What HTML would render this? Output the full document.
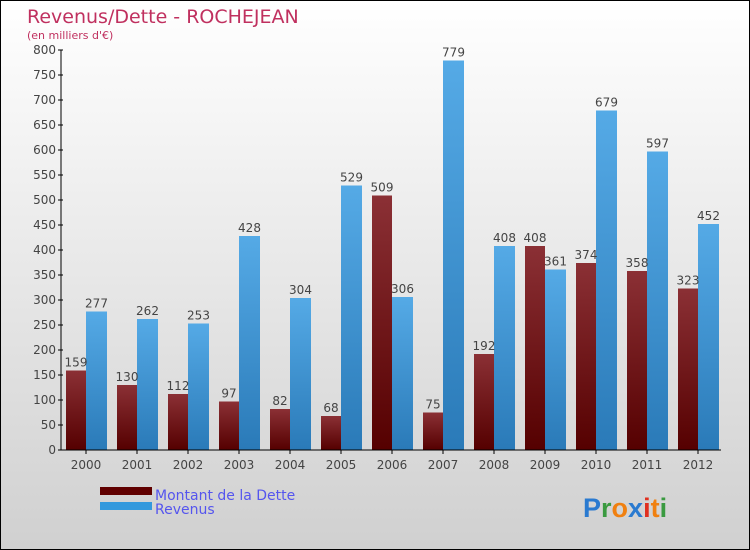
<!DOCTYPE html>
<html><head><meta charset="utf-8"><style>
body{margin:0}
#c{position:relative;width:748px;height:548px;border:1px solid #000;background:linear-gradient(#ffffff,#d0d0d0);font-family:"DejaVu Sans","Liberation Sans",sans-serif;overflow:hidden}
</style></head><body>
<div id="c">
<svg id="s" width="748" height="548">
<defs>
<linearGradient id="gd" x1="0" y1="0" x2="0" y2="1"><stop offset="0" stop-color="#8b3035"/><stop offset="1" stop-color="#550000"/></linearGradient>
<linearGradient id="gr" x1="0" y1="0" x2="0" y2="1"><stop offset="0" stop-color="#55aae6"/><stop offset="1" stop-color="#2a7ab8"/></linearGradient>
</defs>
<text x="26" y="22" font-size="19" fill="#c0305f">Revenus/Dette - ROCHEJEAN</text>
<text x="26" y="38" font-size="11" fill="#c0305f">(en milliers d'€)</text>
<g id="g"></g>
<rect x="99" y="486" width="52" height="8" fill="#600000"/>
<rect x="99" y="501" width="52" height="8" fill="#3399dd"/>
<text x="154" y="499" font-size="14" fill="#5555ee">Montant de la Dette</text>
<text x="154" y="513" font-size="14" fill="#5555ee">Revenus</text>
<text x="582" y="516" font-size="27" font-family="Liberation Sans" font-weight="bold"><tspan fill="#2a7ad0">P</tspan><tspan fill="#3a9a40">r</tspan><tspan fill="#f08010">o</tspan><tspan fill="#2a7ad0">x</tspan><tspan fill="#e03020">i</tspan><tspan fill="#f08010">t</tspan><tspan fill="#3a9a40">i</tspan></text>
</svg>
</div>
<script>
const years=["2000","2001","2002","2003","2004","2005","2006","2007","2008","2009","2010","2011","2012"];
const debt=[159,130,112,97,82,68,509,75,192,408,374,358,323];
const revenue=[277,262,253,428,304,529,306,779,408,361,679,597,452];
const ticks=[0,50,100,150,200,250,300,350,400,450,500,550,600,650,700,750,800];
const g=document.getElementById('g');const NS="http://www.w3.org/2000/svg";
function y(v){return 449-v*0.5;}
function x(i){return 59.5+i*51;}
function mk(t,a){const e=document.createElementNS(NS,t);for(const k in a)e.setAttribute(k,a[k]);g.appendChild(e);return e;}
years.forEach((yr,i)=>{
 let b=mk('rect',{x:x(i)+5.5,y:y(debt[i]),width:20,height:debt[i]*0.5,fill:'url(#gd)'});
 
 
 let r=mk('rect',{x:x(i)+25.5,y:y(revenue[i]),width:21,height:revenue[i]*0.5,fill:'url(#gr)'});
 
 
 let t1=mk('text',{x:x(i)+15.5,y:y(debt[i])-4,'font-size':12,fill:'#444','text-anchor':'middle'});t1.textContent=debt[i];
 
 
 let t2=mk('text',{x:x(i)+36,y:y(revenue[i])-4,'font-size':12,fill:'#444','text-anchor':'middle'});t2.textContent=revenue[i];
 
 
 let xl=mk('text',{x:x(i)+25.5,y:468,'font-size':12,fill:'#444','text-anchor':'middle'});xl.textContent=yr;
 
 
 mk('line',{x1:x(i)+25.5,x2:x(i)+25.5,y1:449,y2:453,stroke:'#000'});
});
ticks.forEach(v=>{
 mk('line',{x1:57,x2:62,y1:y(v),y2:y(v),stroke:'#000'});
 let t=mk('text',{x:55,y:y(v)+4,'font-size':12,fill:'#444','text-anchor':'end'});t.textContent=v;
 
 
});
let ya=mk('line',{x1:60,x2:60,y1:y(800),y2:449,stroke:'#000'});


let xa=mk('line',{x1:60,x2:720,y1:449,y2:449,stroke:'#000'});


</script>
</body></html>
